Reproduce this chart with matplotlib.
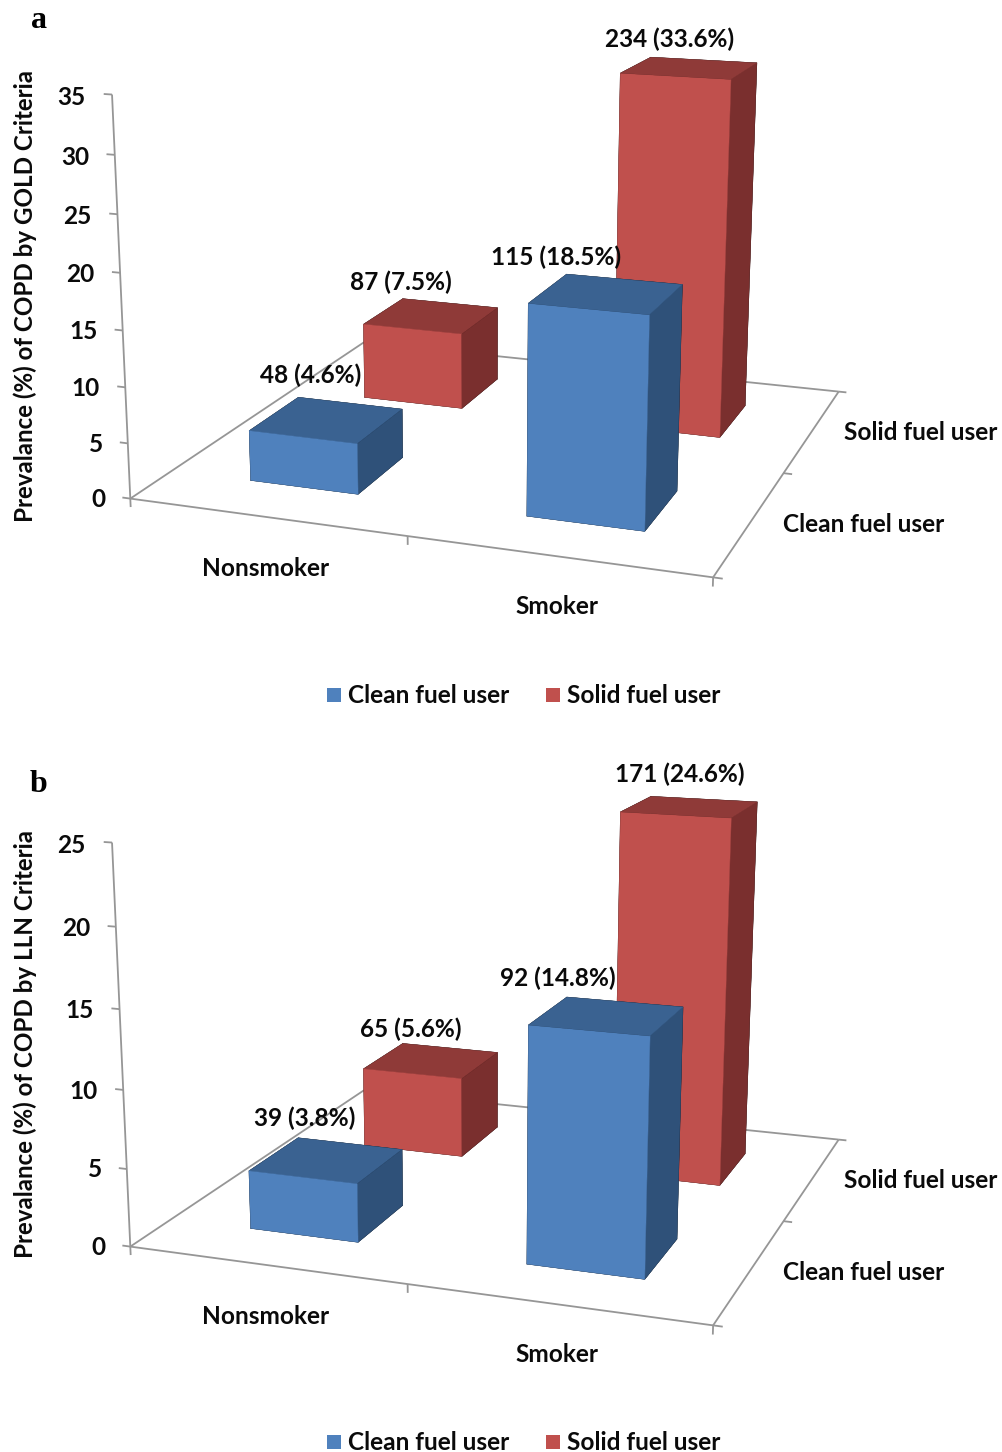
import numpy as np
import matplotlib
matplotlib.use("Agg")
import matplotlib.pyplot as plt
from matplotlib.patches import Rectangle
from mpl_toolkits.mplot3d.art3d import Line3DCollection

# values
smoking = ["Nonsmoker", "Smoker"]
fuels = ["Clean fuel user", "Solid fuel user"]

gold_clean_pct = [4.6, 18.5]
gold_solid_pct = [7.5, 33.6]
gold_clean_n = [48, 115]
gold_solid_n = [87, 234]
gold_ticks = [0, 5, 10, 15, 20, 25, 30, 35]

lln_clean_pct = [3.8, 14.8]
lln_solid_pct = [5.6, 24.6]
lln_clean_n = [39, 92]
lln_solid_n = [65, 171]
lln_ticks = [0, 5, 10, 15, 20, 25]

W, H = 1002, 1452
FONT = "Lato"
SIZE = 17.6
GREY = "#969696"
BLUE = {"front": "#4f81bd", "right": "#2f5179", "top": "#3a6291"}
RED = {"front": "#c0504d", "right": "#7a2f2e", "top": "#8f3a38"}

# camera calibration: (category, series, fraction of axis height) -> pixel in panel a
anchors = [
    (0, 0, 0, 130, 498), (2, 0, 0, 713, 577), (2, 2, 0, 838, 392), (0, 2, 0, 365, 342),
    (0, 0, 1, 112, 95),
    (.3, .3, 4.6 / 35, 249, 431), (.7, .3, 4.6 / 35, 358, 443), (.7, .7, 4.6 / 35, 402, 410),
    (.3, .7, 4.6 / 35, 298, 398), (.3, .3, 0, 251, 481), (.7, .3, 0, 358, 494), (.7, .7, 0, 402, 458),
    (.3, 1.3, 7.5 / 35, 363, 324), (.7, 1.3, 7.5 / 35, 462, 333), (.7, 1.7, 7.5 / 35, 497, 308),
    (.3, 1.7, 7.5 / 35, 403, 299), (.3, 1.3, 0, 364, 397), (.7, 1.3, 0, 462, 408), (.7, 1.7, 0, 497, 379),
    (1.3, .3, 18.5 / 35, 529, 303), (1.7, .3, 18.5 / 35, 649, 314), (1.7, .7, 18.5 / 35, 682, 285),
    (1.3, .7, 18.5 / 35, 567, 275), (1.3, .3, 0, 527, 516), (1.7, .3, 0, 645, 531), (1.7, .7, 0, 677, 492),
    (1.3, 1.3, 33.6 / 35, 621, 73), (1.7, 1.3, 33.6 / 35, 731, 79), (1.7, 1.7, 33.6 / 35, 757, 63),
    (1.3, 1.7, 33.6 / 35, 650, 57), (1.7, 1.3, 0, 720, 437), (1.7, 1.7, 0, 746, 406),
]


def fit_camera(points):
    rows, rhs = [], []
    for x, y, z, u, v in points:
        rows.append([x, y, z, 1, 0, 0, 0, 0, -u * x, -u * y, -u * z])
        rows.append([0, 0, 0, 0, x, y, z, 1, -v * x, -v * y, -v * z])
        rhs += [u, v]
    p = np.linalg.lstsq(np.array(rows, float), np.array(rhs, float), rcond=None)[0]
    return np.array([p[:4], p[4:8], [-1, 1, -1, 0], [p[8], p[9], p[10], 1]])


camera = fit_camera(anchors)


def px_text(fig, x, y, s, **kw):
    kw.setdefault("family", FONT)
    kw.setdefault("weight", "bold")
    kw.setdefault("color", "#0a0a0a")
    kw.setdefault("va", "center")
    return fig.text(x / W, 1 - (y + 1) / H, s, **kw)


def draw_panel(fig, top, clean, solid, clean_n, solid_n, ticks, ylabel, letter, letter_y, label_pos, legend_y):
    zmax = ticks[-1]
    ax = fig.add_axes([0, 1 - (top + W) / H, 1, W / H], projection="3d")
    ax.set_axis_off()
    ax.patch.set_visible(False)
    ax.computed_zorder = False
    M = camera @ np.diag([1, 1, 1 / zmax, 1])
    ax.get_proj = lambda: M

    # floor outline and axis lines
    segs = [[(0, 0, 0), (2, 0, 0)], [(2, 0, 0), (2, 2, 0)], [(2, 2, 0), (0, 2, 0)],
            [(0, 2, 0), (0, 0, 0)], [(0, 0, 0), (0, 0, zmax)]]
    for t in ticks:
        segs.append([(-0.03, 0, t), (0, 0, t)])
        u, v, _, w = M @ np.array([-0.095, 0, t - 0.01 * zmax, 1])
        px_text(fig, u / w, top + v / w - 1, str(t), fontsize=SIZE, ha="right")
    for c in [0, 1, 2]:
        segs.append([(c, 0, 0), (c, 0, -0.022 * zmax)])
        segs.append([(2, c, 0), (2.03, c, 0)])
    ax.add_collection3d(Line3DCollection(segs, colors=GREY, linewidths=1.3, zorder=1), autolim=False)

    # back row first so the front row covers it
    for row, (values, shades, z) in enumerate([(solid, RED, 3), (clean, BLUE, 4)]):
        y0 = 1.3 if row == 0 else 0.3
        for i, v in enumerate(values):
            cols = ["#000000", shades["top"], shades["front"], "#000000", "#000000", shades["right"]]
            ax.bar3d(i + 0.3, y0, 0, 0.4, 0.4, v, color=cols, shade=False,
                     edgecolor=cols, linewidth=0.3, zorder=z + i * 0.1)

    ax.viewLim.intervalx = (0, W)
    ax.viewLim.intervaly = (W, 0)

    # value labels
    names = [f"{clean_n[0]} ({clean[0]}%)", f"{solid_n[0]} ({solid[0]}%)",
             f"{clean_n[1]} ({clean[1]}%)", f"{solid_n[1]} ({solid[1]}%)"]
    for (x, y), s in zip(label_pos, names):
        px_text(fig, x, y, s, fontsize=SIZE, ha="center", zorder=10)

    px_text(fig, 25, top + 295, ylabel, fontsize=17.4, rotation=90, ha="center")
    px_text(fig, 266, top + 568, smoking[0], fontsize=SIZE, ha="center")
    px_text(fig, 557, top + 605, smoking[1], fontsize=SIZE, ha="center")
    px_text(fig, 921, top + 432, fuels[1], fontsize=SIZE, ha="center")
    px_text(fig, 864, top + 523, fuels[0], fontsize=SIZE, ha="center")
    px_text(fig, 39, letter_y, letter, family="Liberation Serif", fontsize=23, ha="center", color="black")

    # legend
    for sx, tx, col, s in [(327, 348, BLUE, fuels[0]), (546, 567, RED, fuels[1])]:
        fig.add_artist(Rectangle((sx / W, 1 - (legend_y + 7) / H), 14 / W, 14 / H,
                                 transform=fig.transFigure, color=col["front"], lw=0))
        px_text(fig, tx, legend_y, s, fontsize=SIZE, ha="left")


fig = plt.figure(figsize=(W / 100, H / 100), dpi=100, facecolor="white")

draw_panel(fig, 0, gold_clean_pct, gold_solid_pct, gold_clean_n, gold_solid_n, gold_ticks,
           "Prevalance (%) of COPD by GOLD Criteria", "a", 19,
           [(311, 374), (401, 281), (556, 256), (670, 38)], 695)
draw_panel(fig, 748, lln_clean_pct, lln_solid_pct, lln_clean_n, lln_solid_n, lln_ticks,
           "Prevalance (%) of COPD by LLN Criteria", "b", 783,
           [(305, 1117), (411, 1028), (558, 977), (680, 773)], 1442)

fig.savefig("out.png", dpi=100)
